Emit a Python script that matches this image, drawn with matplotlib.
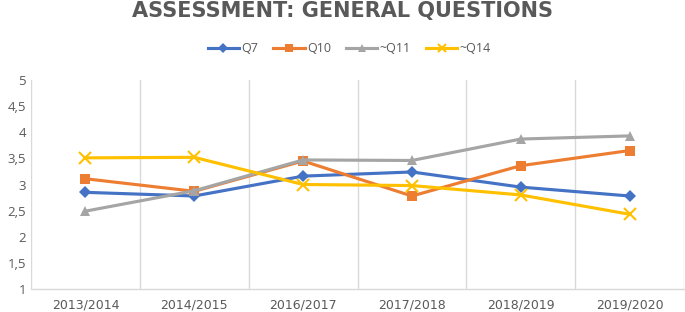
import matplotlib.pyplot as plt
import numpy as np

years = ["2013/2014", "2014/2015", "2016/2017", "2017/2018", "2018/2019", "2019/2020"]
q7 = [2.85, 2.78, 3.16, 3.24, 2.95, 2.78]
q10 = [3.11, 2.87, 3.45, 2.78, 3.36, 3.65]
q11 = [2.49, 2.88, 3.47, 3.46, 3.87, 3.93]
q14 = [3.51, 3.52, 3.00, 2.98, 2.80, 2.43]

series = [
    ("Q7", q7, "#4472C4", "D", 6),
    ("Q10", q10, "#ED7D31", "s", 7.5),
    ("~Q11", q11, "#A5A5A5", "^", 7.5),
    ("~Q14", q14, "#FFC000", "x", 8),
]

text_color = "#595959"
grid_color = "#D9D9D9"

fig = plt.figure(figsize=(6.85, 3.12), dpi=100)
ax = fig.add_axes([31 / 685, 1 - 289 / 312, 653 / 685, 209 / 312])

x = np.arange(len(years))
for name, vals, color, marker, ms in series:
    ax.plot(x, vals, color=color, lw=2.25, marker=marker, ms=ms,
            mew=1.5 if marker == "x" else 0, label=name, solid_joinstyle="round")

ax.set_xlim(-0.5, len(years) - 0.5)
ax.set_ylim(1, 5)
ax.set_yticks(np.arange(1, 5.01, 0.5))
ax.set_yticklabels([f"{v:g}".replace(".", ",") for v in np.arange(1, 5.01, 0.5)])
ax.set_xticks(x)
ax.set_xticklabels(years)

# vertical gridlines between categories, like Excel
for b in np.arange(-0.5, len(years), 1.0):
    ax.axvline(b, color=grid_color, lw=1, zorder=0)

for side in ["top", "right", "left"]:
    ax.spines[side].set_visible(False)
ax.spines["bottom"].set_color(grid_color)
ax.spines["bottom"].set_linewidth(1)
ax.tick_params(axis="both", length=0, colors=text_color, labelsize=9)
ax.tick_params(axis="x", pad=7)
for lab in ax.get_xticklabels():
    lab.set_fontfamily("DejaVu Sans")
    lab.set_fontsize(9)
for lab in ax.get_yticklabels():
    lab.set_fontfamily("Open Sans")
    lab.set_fontsize(9.5)

fig.text(0.5, 1 - 10.5 / 312, "ASSESSMENT: GENERAL QUESTIONS", ha="center", va="center",
         fontsize=15, fontweight="bold", color=text_color, family="DejaVu Sans")

leg = fig.legend(loc="center", bbox_to_anchor=(0.51, 1 - 49 / 312), ncol=4, frameon=False,
                 handlelength=2.5, columnspacing=1.2, handletextpad=0.2, markerscale=0.8,
                 prop={"family": "Open Sans", "size": 9})
for t in leg.get_texts():
    t.set_color(text_color)

fig.savefig("out.png", dpi=100)
